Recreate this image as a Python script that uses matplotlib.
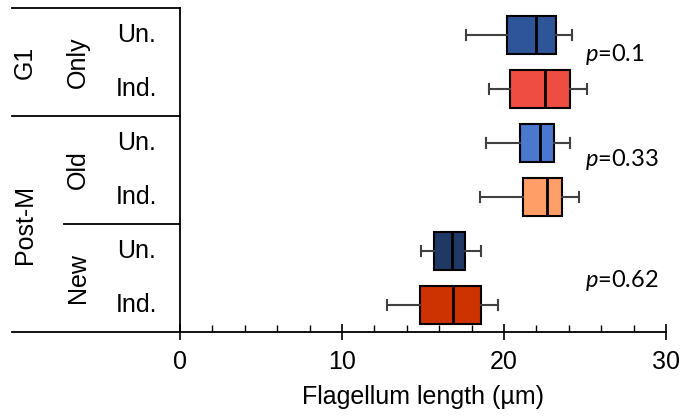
import matplotlib
matplotlib.use('Agg')
import matplotlib.pyplot as plt
from matplotlib.lines import Line2D
from matplotlib.ticker import MultipleLocator

# data (um)
rows = ['Un.', 'Ind.', 'Un.', 'Ind.', 'Un.', 'Ind.']
medians = [22.0, 22.5, 22.2, 22.65, 16.8, 16.85]
q1 = [20.2, 20.4, 21.0, 21.2, 15.7, 14.8]
q3 = [23.2, 24.1, 23.1, 23.6, 17.6, 18.6]
wlo = [17.65, 19.1, 18.9, 18.5, 14.9, 12.8]
whi = [24.2, 25.1, 24.1, 24.6, 18.6, 19.6]
colors = ['#2E5597', '#EF4C42', '#4A78CF', '#FF9E66', '#1F3864', '#CC3300']

pvals = ['0.1', '0.33', '0.62']
p_y = [1.37, 3.3, 5.55]

subgroups = ['Only', 'Old', 'New']
groups = ['G1', 'Post-M']

plt.rcParams['font.family'] = ['Liberation Sans', 'DejaVu Sans']
plt.rcParams['mathtext.fontset'] = 'custom'
plt.rcParams['mathtext.it'] = 'Lato:italic'
plt.rcParams['mathtext.rm'] = 'Lato'

fs = 18

fig = plt.figure(figsize=(6.84, 4.18), dpi=100)
ax = fig.add_axes([180/684, 86/418, 486/684, 324/418])

pos = list(range(1, len(rows) + 1))
stats = []
for i in range(len(rows)):
    stats.append(dict(med=medians[i], q1=q1[i], q3=q3[i],
                      whislo=wlo[i], whishi=whi[i], fliers=[]))

bp = ax.bxp(stats, positions=pos, vert=False, widths=0.72, patch_artist=True,
            capwidths=0.17,
            boxprops=dict(edgecolor='black', linewidth=1.5),
            medianprops=dict(color='black', linewidth=2),
            whiskerprops=dict(color='#404040', linewidth=1.5),
            capprops=dict(color='#404040', linewidth=1.5))
for patch, c in zip(bp['boxes'], colors):
    patch.set_facecolor(c)

for s, y in zip(pvals, p_y):
    ax.text(25.0, y, '$\\mathit{p}$=' + s, fontsize=17, family='Lato',
            va='center', ha='left')

ax.set_xlim(0, 30)
ax.set_ylim(6.5, 0.5)
ax.set_yticks([])
ax.spines['top'].set_visible(False)
ax.spines['right'].set_visible(False)
ax.spines['left'].set_linewidth(1.3)
ax.spines['bottom'].set_linewidth(1.3)
ax.xaxis.set_major_locator(MultipleLocator(10))
ax.xaxis.set_minor_locator(MultipleLocator(2))
ax.tick_params(axis='x', which='major', direction='inout', length=11, width=1.2,
               labelsize=fs, pad=7.5)
ax.tick_params(axis='x', which='minor', direction='in', length=5, width=1.0)
ax.set_xlabel('Flagellum length (µm)', fontsize=fs, labelpad=8)

# left label area
x_out = (12 - 180) / 486
x_mid = (64 - 180) / 486
def hline(x0, yv):
    tr = ax.get_yaxis_transform()
    ax.add_line(Line2D([x0, 0], [yv, yv], transform=tr, color='black',
                       linewidth=1.3, clip_on=False))
hline(x_out, 0.5)
hline(x_out, 2.5)
hline(x_mid, 4.5)
hline(x_out, 6.5)

tr = ax.get_yaxis_transform()
for i, r in enumerate(rows):
    ax.text(-0.0885, pos[i], r, transform=tr, fontsize=fs, ha='center',
            va='center')
for s, y in zip(subgroups, [1.5, 3.5, 5.5]):
    ax.text(-0.21, y, s, transform=tr, fontsize=fs, rotation=90,
            ha='center', va='center')
for s, y in zip(groups, [1.5, 4.5]):
    ax.text(-0.319, y, s, transform=tr, fontsize=fs, rotation=90,
            ha='center', va='center')

plt.savefig('out.png', dpi=100)
